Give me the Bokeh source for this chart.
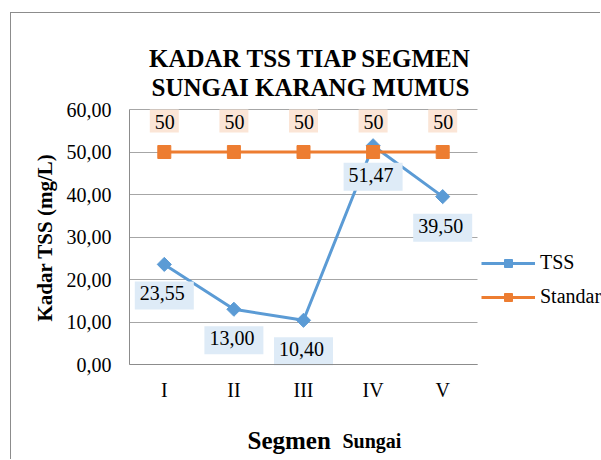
from bokeh.plotting import figure
from bokeh.models import (ColumnDataSource, Legend, LegendItem, Label,
                          FixedTicker, Range1d)
from bokeh.core.properties import value
from bokeh.embed import file_html
from bokeh.resources import INLINE
import math

segments = ["I", "II", "III", "IV", "V"]
tss = [23.55, 13.00, 10.40, 51.47, 39.50]
standard = [50, 50, 50, 50, 50]
tss_labels = ["23,55", "13,00", "10,40", "51,47", "39,50"]
std_labels = ["50", "50", "50", "50", "50"]
y_ticks = [0, 10, 20, 30, 40, 50, 60]
y_tick_labels = ["0,00", "10,00", "20,00", "30,00", "40,00", "50,00", "60,00"]
title_lines = ["KADAR TSS TIAP SEGMEN", "SUNGAI KARANG MUMUS"]
x_title = ["Segmen", "Sungai"]
y_title = "Kadar TSS (mg/L)"

FONT = "'Liberation Serif', serif"
BLUE = "#5B9BD5"
ORANGE = "#ED7D31"

# layout (pixels on the canvas)
W, H = 590, 447
PL, PT, PW, PH = 118, 96, 348, 255   # plot area inside the canvas
n = len(segments)
x_pos = list(range(1, n + 1))
ymin, ymax = y_ticks[0], y_ticks[-1]
xppu = PW / n
yppu = PH / (ymax - ymin)
x0 = 0.5 - PL / xppu
y1 = ymax + PT / yppu

src = ColumnDataSource(dict(x=x_pos, tss=tss, std=standard,
                            tl=tss_labels, sl=std_labels))

p = figure(width=W, height=H, x_range=Range1d(x0, x0 + W / xppu),
           y_range=Range1d(y1 - H / yppu, y1),
           output_backend="svg", toolbar_location=None,
           min_border=0)
p.styles = {"border-left": "1px solid #8c8c8c", "border-top": "1px solid #8c8c8c",
            "margin-left": "10px", "margin-top": "12px"}
p.outline_line_color = None
p.background_fill_color = "white"
p.border_fill_color = "white"

p.xaxis.fixed_location = ymin
p.yaxis.fixed_location = 0.5
p.xaxis.bounds = (0.5, n + 0.5)
p.yaxis.bounds = (ymin, ymax)
p.xaxis.ticker = FixedTicker(ticks=x_pos)
p.xaxis.major_label_overrides = {i: s for i, s in zip(x_pos, segments)}
p.yaxis.ticker = FixedTicker(ticks=y_ticks)
p.yaxis.major_label_overrides = {t: l for t, l in zip(y_ticks, y_tick_labels)}

p.xgrid.grid_line_color = None
p.ygrid.grid_line_color = "#a6a6a6"
p.ygrid.grid_line_width = 1
p.ygrid.bounds = (ymin, ymax)
if "cross_bounds" in p.ygrid[0].properties():
    p.ygrid.cross_bounds = (0.5, n + 0.5)

for ax in (p.xaxis[0], p.yaxis[0]):
    ax.axis_line_color = "#8c8c8c"
    ax.major_tick_line_color = None
    ax.minor_tick_line_color = None
    ax.major_tick_out = 0
    ax.major_tick_in = 0
    ax.major_label_text_font = FONT
    ax.major_label_text_font_size = "20px"
    ax.major_label_text_color = "black"
p.yaxis.major_label_standoff = 18
p.xaxis.major_label_standoff = 14

l_tss = p.line("x", "tss", source=src, line_color=BLUE, line_width=3)
m_tss = p.scatter("x", "tss", source=src, marker="square", angle=math.pi / 4,
                  size=10, fill_color=BLUE, line_color=BLUE)
l_std = p.line("x", "std", source=src, line_color=ORANGE, line_width=3)
m_std = p.scatter("x", "std", source=src, marker="square", size=13,
                  fill_color=ORANGE, line_color=ORANGE)

p.text("x", "tss", text="tl", source=src, y_offset=31,
       text_align="center", text_baseline="middle",
       text_font=value(FONT), text_font_size="20px", text_color="black",
       background_fill_color="#DEEBF7", padding=[5, 9, 5, 9])
p.text("x", "std", text="sl", source=src, y_offset=-31,
       text_align="center", text_baseline="middle",
       text_font=value(FONT), text_font_size="20px", text_color="black",
       background_fill_color="#FBE5D6", padding=[5, 4, 5, 4])

legend = Legend(items=[LegendItem(label="TSS", renderers=[l_tss, m_tss]),
                       LegendItem(label="Standard", renderers=[l_std, m_std])],
                location=(470, 152), orientation="vertical",
                glyph_width=54, glyph_height=20, spacing=11, padding=0, margin=0,
                label_standoff=5, border_line_color=None,
                background_fill_alpha=0,
                label_text_font=FONT, label_text_font_size="20px",
                label_text_color="black")
p.add_layout(legend, "center")

for txt, y in zip(title_lines, [402, 373]):
    p.add_layout(Label(x=299, y=y, x_units="screen", y_units="screen", text=txt,
                       text_align="center", text_baseline="alphabetic",
                       text_font=FONT, text_font_style="bold",
                       text_font_size="25px", text_color="black"))
p.add_layout(Label(x=236, y=20, x_units="screen", y_units="screen", text=x_title[0],
                   text_align="left", text_baseline="alphabetic", text_font=FONT,
                   text_font_style="bold", text_font_size="25px", text_color="black"))
p.add_layout(Label(x=331, y=20, x_units="screen", y_units="screen", text=x_title[1],
                   text_align="left", text_baseline="alphabetic", text_font=FONT,
                   text_font_style="bold", text_font_size="20px", text_color="black"))
p.add_layout(Label(x=33, y=223, x_units="screen", y_units="screen", text=y_title,
                   angle=math.pi / 2, text_align="center", text_baseline="middle",
                   text_font=FONT, text_font_style="bold", text_font_size="21px",
                   text_color="black"))

open("out.html", "w").write(file_html(p, INLINE))
